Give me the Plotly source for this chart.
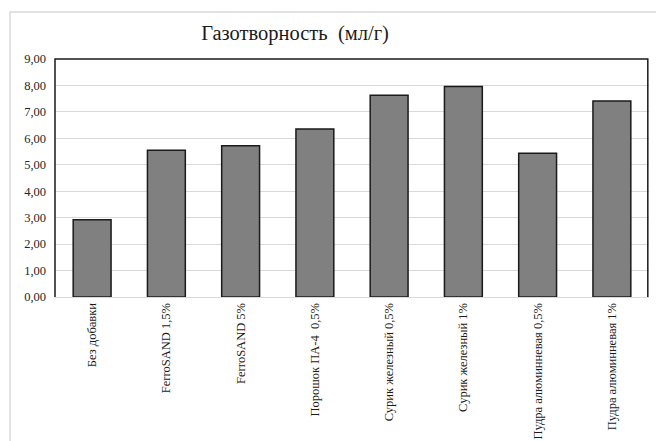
import plotly.graph_objects as go

# data
categories = [
    "Без добавки",
    "FerroSAND 1,5%",
    "FerroSAND 5%",
    "Порошок ПА-4  0,5%",
    "Сурик железный 0,5%",
    "Сурик железный 1%",
    "Пудра алюминневая 0,5%",
    "Пудра алюминневая 1%",
]
values = [2.92, 5.55, 5.72, 6.35, 7.63, 7.96, 5.44, 7.41]
title_text = "Газотворность  (мл/г)"

W, H = 656, 441
L, R, T, B = 55, 7, 59, 144
pw, ph = W - L - R, H - T - B

def px(x):
    return (x - L) / pw

def py(y):
    return (H - B - y) / ph

fig = go.Figure()
fig.add_trace(go.Bar(
    x=categories,
    y=values,
    marker=dict(color="#808080", line=dict(color="#1a1a1a", width=1.5)),
    width=0.51,
    showlegend=False,
))

serif = "Liberation Serif, Times New Roman, serif"

fig.update_layout(
    width=W, height=H,
    margin=dict(l=L, r=R, t=T, b=B, autoexpand=False),
    paper_bgcolor="white",
    plot_bgcolor="white",
    separators=",.",
    font=dict(family=serif, color="#262626", size=12),
    title=dict(text=title_text, xref="container", x=295 / W, xanchor="center",
               yref="container", y=1 - 33 / H, yanchor="middle",
               font=dict(family=serif, size=20.5, color="#1a1a1a")),
    xaxis=dict(
        tickangle=-90,
        tickfont=dict(family=serif, size=12.5, color="#1a1a1a"),
        showline=True, linecolor="#d9d9d9", linewidth=1,
        ticks="", showgrid=False,
    ),
    yaxis=dict(
        range=[0, 9], dtick=1, tickformat=".2f",
        tickfont=dict(family=serif, size=12.5, color="#262626"),
        showgrid=True, gridcolor="#d9d9d9", gridwidth=1,
        zeroline=False, ticks="", showline=False,
        ticklabelstandoff=8,
    ),
    shapes=[
        # outer chart border
        dict(type="rect", xref="paper", yref="paper",
             x0=px(10), x1=px(670), y0=py(455), y1=py(12),
             line=dict(color="#d9d9d9", width=1.5), layer="below"),
        # plot area frame: left, top, right
        dict(type="path", xref="paper", yref="paper",
             path="M 0 0 L 0 1 L 0.998 1 L 0.998 0",
             line=dict(color="#1a1a1a", width=1.5)),
    ],
)

fig.write_html(
    "out.html",
    config={"displayModeBar": False},
    post_script="document.body.style.margin='0';document.body.style.overflow='hidden';",
)
